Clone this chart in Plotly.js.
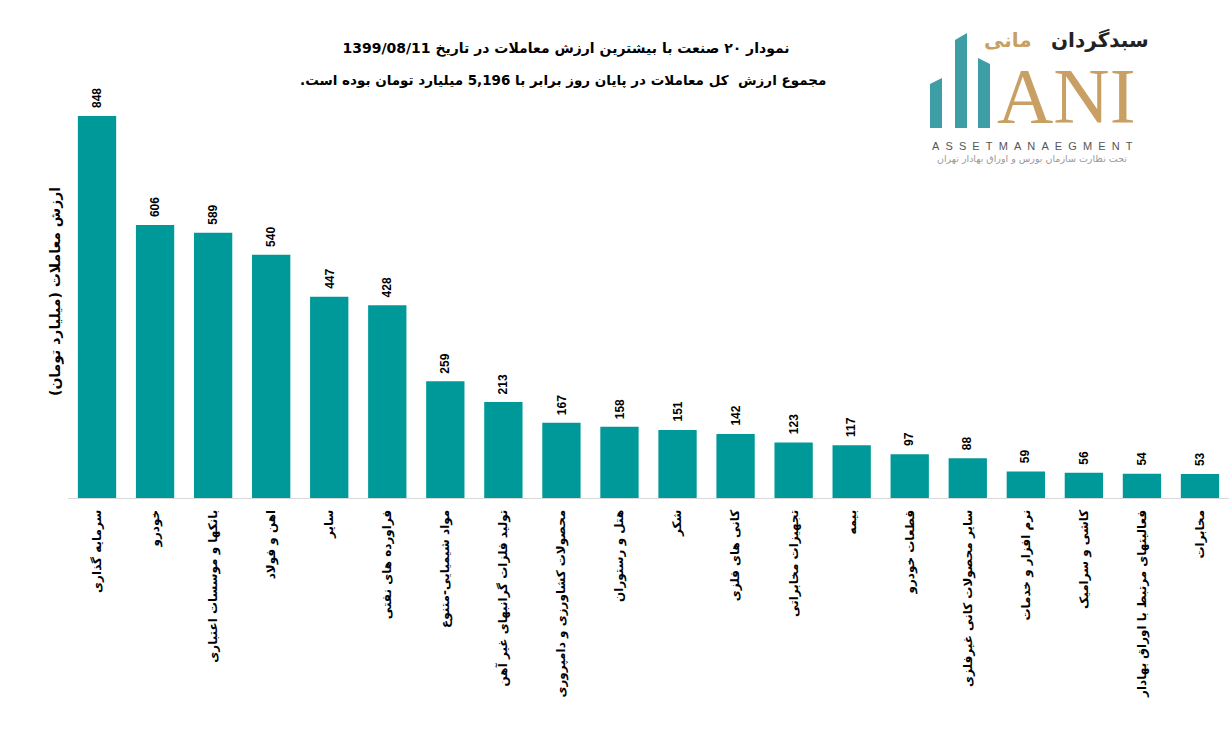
<!DOCTYPE html>
<html><head><meta charset="utf-8">
<script src="https://cdn.plot.ly/plotly-3.0.1.min.js"></script>
<style>html,body{margin:0;padding:0;background:#fff}#chart{width:1229px;height:741px}</style>
</head><body><div id="chart"></div>
<script>
const categories = [
  "سرمایه گذاری","خودرو","بانکها و موسسات اعتباری","اهن و فولاد","سایر",
  "فراورده های نفتی","مواد شیمیایی-متنوع","تولید فلزات گرانبهای غیر آهن",
  "محصولات کشاورزی و دامپروری","هتل و رستوران","شکر","کانی های فلزی",
  "تجهیزات مخابراتی","بیمه","قطعات خودرو","سایر محصولات کانی غیرفلزی",
  "نرم افزار و خدمات","کاشی و سرامیک","فعالیتهای مرتبط با اوراق بهادار","مخابرات"
];
const values = [848,606,589,540,447,428,259,213,167,158,151,142,123,117,97,88,59,56,54,53];
const titleLine1 = "نمودار ۲۰ صنعت با بیشترین ارزش معاملات در تاریخ 1399/08/11";
const titleLine2 = "مجموع ارزش  کل معاملات در پایان روز برابر با 5,196 میلیارد تومان بوده است.";
const yTitle = "ارزش معاملات (میلیارد تومان)";
const logoLatin = "ASSETMANAEGMENT";

const RLM = "\u200F";
const AR = '"DejaVu Sans", "Noto Sans", sans-serif';

const W = 1229, H = 741, L = 68, T = 80, B = 243, R = 0;
const plotW = W - L - R, plotH = H - T - B;
const px = x => (x - L) / plotW;
const py = y => (H - B - y) / plotH;

const cats = categories.map(c => RLM + c + RLM);

const trace = {
  type: 'bar',
  x: cats,
  y: values,
  marker: {color: '#009999'},
  hoverinfo: 'x+y'
};

const tealPath = (x0,x1,yTopL,yTopR,yBot) => `M ${px(x0)} ${py(yBot)} L ${px(x0)} ${py(yTopL)} L ${px(x1)} ${py(yTopR)} L ${px(x1)} ${py(yBot)} Z`;

const shapes = [
  {type:'path', xref:'paper', yref:'paper', path: tealPath(930,942,84,78,128), fillcolor:'#3e9ea6', line:{width:0}},
  {type:'path', xref:'paper', yref:'paper', path: tealPath(955,967,40,33,128), fillcolor:'#3e9ea6', line:{width:0}},
  {type:'path', xref:'paper', yref:'paper', path: tealPath(978,990,58,64,128), fillcolor:'#3e9ea6', line:{width:0}}
];

const valueLabels = values.map((v, i) => ({
  x: cats[i], y: v, xref:'x', yref:'y', text: '<b>' + v + '</b>', showarrow:false,
  textangle:-90, xanchor:'center', yanchor:'bottom', yshift: 6,
  font:{family:'"Liberation Sans", Arial, sans-serif', size:12, color:'#000'}
}));

const annotations = valueLabels.concat([
  {xref:'paper', yref:'paper', x: px(563), y: py(80), text: '<b>' + RLM + titleLine2 + RLM + '</b>',
   showarrow:false, font:{family:AR, size:13.5, color:'#000'}, xanchor:'center', yanchor:'middle'},
  {xref:'paper', yref:'paper', x: px(55), y: py(292), text: '<b>' + RLM + yTitle + RLM + '</b>',
   showarrow:false, textangle:-90, font:{family:AR, size:14, color:'#000'}, xanchor:'center', yanchor:'middle'},
  // logo texts
  {xref:'paper', yref:'paper', x: px(1066), y: py(96), text: 'ANI', showarrow:false, borderpad:0,
   font:{family:'"Liberation Serif", "DejaVu Serif", serif', size:78, color:'#c8a064'}, xanchor:'center', yanchor:'middle'},
  {xref:'paper', yref:'paper', x: px(1100), y: py(40), text: '<b>سبدگردان</b>', showarrow:false, borderpad:0,
   font:{family:AR, size:20, color:'#222'}, xanchor:'center', yanchor:'middle'},
  {xref:'paper', yref:'paper', x: px(1008), y: py(40), text: '<b>مانی</b>', showarrow:false, borderpad:0,
   font:{family:AR, size:20, color:'#c8a064'}, xanchor:'center', yanchor:'middle'},
  {xref:'paper', yref:'paper', x: px(1032), y: py(146), text: logoLatin.split('').join('\u00A0\u00A0'), showarrow:false, borderpad:0,
   font:{family:'"Liberation Sans", Arial, sans-serif', size:11, color:'#555'}, xanchor:'center', yanchor:'middle'},
  {xref:'paper', yref:'paper', x: px(1032), y: py(158), text: RLM + 'تحت نظارت سازمان بورس و اوراق بهادار تهران' + RLM, showarrow:false, borderpad:0,
   font:{family:AR, size:9.5, color:'#999'}, xanchor:'center', yanchor:'middle'}
]);

const layout = {
  width: W, height: H,
  margin: {l: L, r: R, t: T, b: B, pad: 0},
  paper_bgcolor: '#fff', plot_bgcolor: '#fff',
  showlegend: false,
  bargap: 0.34,
  title: {text: '<b>' + RLM + titleLine1 + RLM + '</b>', x: 566/W, xanchor:'center', y: 1 - 48/H, yanchor:'middle',
          xref:'container', yref:'container', font:{family:AR, size:14, color:'#000'}},
  xaxis: {type:'category', showline:true, linecolor:'#d9d9d9', linewidth:1, ticks:'', tickangle:-90,
          showgrid:false, zeroline:false, ticklabelstandoff: 6,
          tickfont:{family:AR, size:12, color:'#000', weight:'bold'}},
  yaxis: {visible:false, range:[0, plotH / 0.4505], fixedrange:true},
  shapes: shapes,
  annotations: annotations
};

Plotly.newPlot('chart', [trace], layout, {displayModeBar:false, staticPlot:true});
</script></body></html>
